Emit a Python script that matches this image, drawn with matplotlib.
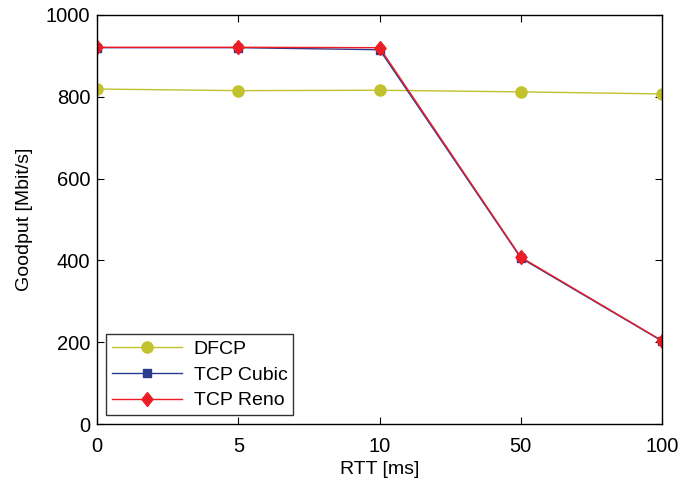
import matplotlib

matplotlib.use("Agg")

import matplotlib.pyplot as plt
import numpy as np

# data
rtt_labels = ["0", "5", "10", "50", "100"]
dfcp = [819, 815, 816, 812, 807]
tcp_cubic = [920, 920, 915, 406, 203]
tcp_reno = [921, 921, 920, 408, 204]

plt.rcParams["font.family"] = ["Liberation Sans", "DejaVu Sans"]
plt.rcParams["font.size"] = 14

fig = plt.figure(figsize=(6.94, 4.82), dpi=100)
ax = fig.add_axes([0.140, 0.120, 0.814, 0.849])

x = np.arange(len(rtt_labels))

# diamond a bit taller than wide, as in the reference
diamond = [(0, 1), (0.8, 0), (0, -1), (-0.8, 0), (0, 1)]

ax.plot(x, dfcp, color="#c2c22e", linewidth=1.0, marker="o",
        markersize=8, label="DFCP")
ax.plot(x, tcp_cubic, color="#2b3a8f", linewidth=1.0, marker="s",
        markersize=6, label="TCP Cubic")
ax.plot(x, tcp_reno, color="#ee1c25", linewidth=1.0, marker=diamond,
        markersize=10, label="TCP Reno")

ax.set_xlim(0, len(rtt_labels) - 1)
ax.set_ylim(0, 1000)
ax.set_xticks(x)
ax.set_xticklabels(rtt_labels)
ax.set_yticks(np.arange(0, 1001, 200))

ax.tick_params(direction="in", top=True, right=True, length=5,
               width=0.8, labelsize=14.5)
ax.tick_params(axis="x", pad=9)
ax.tick_params(axis="y", pad=5)

for spine in ax.spines.values():
    spine.set_linewidth(1.0)

ax.set_xlabel("RTT [ms]", fontsize=14, labelpad=4)
ax.set_ylabel("Goodput [Mbit/s]", fontsize=14, labelpad=9)

legend = ax.legend(loc="lower left", fontsize=14, frameon=True,
                   fancybox=False, edgecolor="black", borderpad=0.3,
                   handlelength=3.6, labelspacing=0.42, handletextpad=0.6,
                   borderaxespad=0.0, bbox_to_anchor=(0.016, 0.022))
legend.get_frame().set_linewidth(1.0)

fig.savefig("out.png", dpi=100)
